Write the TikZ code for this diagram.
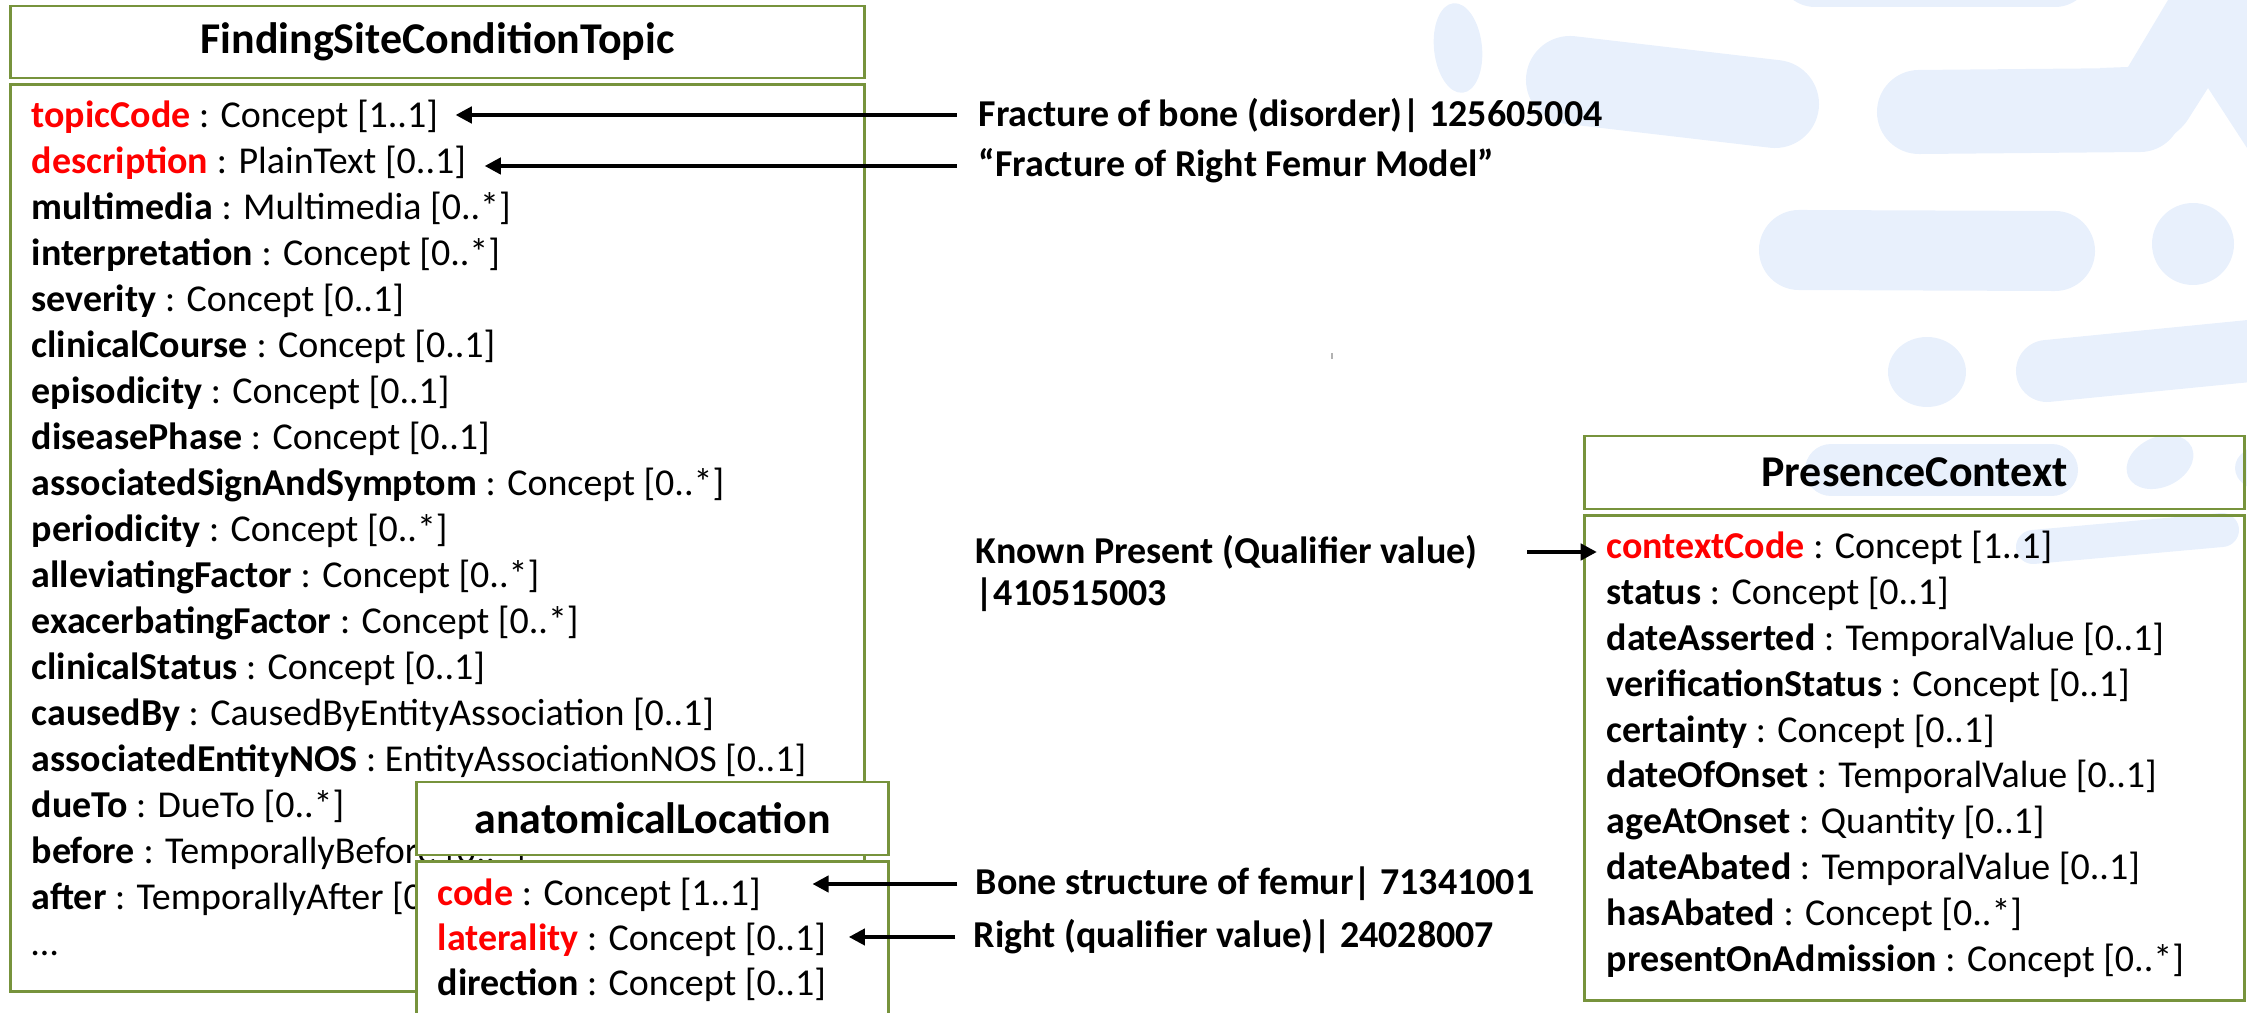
\documentclass[tikz,border=0pt]{standalone}
\usepackage{fontspec}
\setmainfont{Carlito}
\usetikzlibrary{arrows.meta,positioning}

\definecolor{umlgreen}{RGB}{119,147,60}
\definecolor{logoblue}{RGB}{232,240,252}

\tikzset{
  classhead/.style={draw=umlgreen, line width=0.8pt, inner sep=0pt, font=\bfseries\fontsize{12.5}{15}\selectfont},
  classbody/.style={draw=umlgreen, line width=0.8pt, inner sep=0pt},
  attr/.style={anchor=base west, inner sep=0pt, font=\fontsize{10.8}{13}\selectfont},
  note/.style={anchor=west, inner sep=0pt, font=\bfseries\fontsize{10.8}{13}\selectfont},
  link/.style={-{Triangle[length=4.6pt,width=4.6pt]}, line width=1.1pt},
  blob/.style={draw=logoblue, line cap=round},
}

\newcommand{\attrline}[3]{\textcolor{#1}{\bfseries #2} : #3}

\begin{document}
\begin{tikzpicture}[x=0.01cm, y=-0.01cm]
\useasboundingbox (0,0) rectangle (2247,1013);
\clip (0,0) rectangle (2247,1013);

%background logo
\fill[logoblue, rotate around={6:(1458,48)}] (1458,48) ellipse [x radius=24, y radius=45];
\draw[blob, line width=0.88cm] (1570,80) -- (1775,104);
\draw[blob, line width=0.74cm] (1815,-30) -- (2055,-30);
\draw[blob, line width=0.84cm] (1919,112) -- (2140,110);
\fill[logoblue] (2100,68) -- (2128,67) -- (2168,0) -- (2247,0) -- (2247,148) -- (2208,88)
   [rounded corners=4pt] -- (2180,132) -- (2140,152) [sharp corners] -- (2100,152) -- cycle;
\draw[blob, line width=0.80cm] (1799,250) -- (2055,251);
\fill[logoblue] (2193,244) circle [radius=41];
\fill[logoblue] (1927,372) ellipse [x radius=39, y radius=35];
\draw[blob, line width=0.62cm] (2047,371) -- (2290,347);
\draw[blob, line width=0.52cm] (1831,470) -- (2052,470);
\fill[logoblue, rotate around={25:(2160,462)}] (2160,462) ellipse [x radius=35, y radius=25];
\fill[logoblue] (2268,468) ellipse [x radius=33, y radius=24];
\draw[blob, line width=0.34cm] (2033,547) -- (2222,530);
\draw[gray!60, line width=0.6pt] (1332,353) -- (1332,359);

%FindingSiteConditionTopic
\node[classhead, minimum width=8.53cm, minimum height=0.72cm] (fscHead) at (437.5,42) {FindingSiteConditionTopic};
\node[classbody, minimum width=8.53cm, minimum height=9.06cm, below=0.04cm of fscHead] (fscBody) {};

 \def\dy{46};
 \foreach \i/\col/\key/\type in {0/red/topicCode/Concept [1..1], 1/red/description/PlainText [0..1],
     2/black/multimedia/Multimedia [0..*], 3/black/interpretation/Concept [0..*],
     4/black/severity/Concept [0..1], 5/black/clinicalCourse/Concept [0..1],
     6/black/episodicity/Concept [0..1], 7/black/diseasePhase/Concept [0..1],
     8/black/associatedSignAndSymptom/Concept [0..*], 9/black/periodicity/Concept [0..*],
     10/black/alleviatingFactor/Concept [0..*], 11/black/exacerbatingFactor/Concept [0..*],
     12/black/clinicalStatus/Concept [0..1], 13/black/causedBy/CausedByEntityAssociation [0..1],
     14/black/associatedEntityNOS/EntityAssociationNOS [0..1], 15/black/dueTo/DueTo [0..*],
     16/black/before/TemporallyBefore [0..*], 17/black/after/TemporallyAfter [0..*]}{
    \node[attr] (fsc\i) at (31, 128+\i*\dy) {\attrline{\col}{\key}{\type}};
 }
 \node[attr] (fscMore) at (31, 128+18*\dy) {\ldots};

%anatomicalLocation
\node[classhead, fill=white, minimum width=4.71cm, minimum height=0.73cm] (alHead) at (652.5,818.5) {anatomicalLocation};
\node[classbody, fill=white, minimum width=4.71cm, minimum height=2.2cm, below=0.04cm of alHead] (alBody) {};

 \def\dy{45};
 \foreach \i/\col/\key/\type in {0/red/code/Concept [1..1], 1/red/laterality/Concept [0..1], 2/black/direction/Concept [0..1]}{
    \node[attr] (al\i) at (437, 906+\i*\dy) {\attrline{\col}{\key}{\type}};
 }

%PresenceContext
\node[classhead, minimum width=6.59cm, minimum height=0.73cm] (pcHead) at (1914.5,472.5) {PresenceContext};
\node[classbody, minimum width=6.59cm, minimum height=4.84cm, below=0.04cm of pcHead] (pcBody) {};

 \def\dy{45.8};
 \foreach \i/\col/\key/\type in {0/red/contextCode/Concept [1..1], 1/black/status/Concept [0..1],
     2/black/dateAsserted/TemporalValue [0..1], 3/black/verificationStatus/Concept [0..1],
     4/black/certainty/Concept [0..1], 5/black/dateOfOnset/TemporalValue [0..1],
     6/black/ageAtOnset/Quantity [0..1], 7/black/dateAbated/TemporalValue [0..1],
     8/black/hasAbated/Concept [0..*], 9/black/presentOnAdmission/Concept [0..*]}{
    \node[attr] (pc\i) at (1606, 559+\i*\dy) {\attrline{\col}{\key}{\type}};
 }

%value notes
\node[note] (noteTopic) at (978,115) {Fracture of bone (disorder)| 125605004};
\node[note] (noteDescr) at (978,166) {“Fracture of Right Femur Model”};
\node[note] (noteCode) at (975,884) {Bone structure of femur| 71341001};
\node[note] (noteLat) at (973,937) {Right (qualifier value)| 24028007};
\node[note] (noteKnown) at (975,552) {Known Present (Qualifier value)};
\node[note] (noteKnownId) at (975,595) {|410515003};

\draw[link, shorten <=6pt, shorten >=4.8pt] (noteTopic) -- (noteTopic -| fsc0.east);
\draw[link, shorten <=6pt, shorten >=5.1pt] (noteDescr) -- (noteDescr -| fsc1.east);
\draw[link, shorten <=5pt, shorten >=14.5pt] (noteCode) -- (noteCode -| al0.east);
\draw[link, shorten <=5pt, shorten >=6.3pt] (noteLat) -- (noteLat -| al1.east);
\draw[link, shorten <=14pt, shorten >=2.6pt] (noteKnown) -- (noteKnown -| pc0.west);

\end{tikzpicture}
\end{document}
